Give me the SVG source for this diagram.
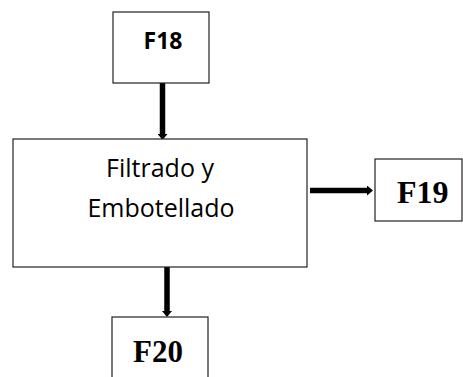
<svg xmlns="http://www.w3.org/2000/svg" width="463" height="377" viewBox="0 0 463 377">
  <style>
    .box { fill: #ffffff; stroke: #222222; stroke-width: 1.2; }
    .conn { stroke: #000000; stroke-width: 5.5; fill: none; }
    .sans { font-family: "Open Sans", "Liberation Sans", sans-serif; fill: #000000; }
    .serif { font-family: "Liberation Serif", "Times New Roman", serif; font-weight: bold; fill: #000000; }
  </style>
  <defs>
    <marker id="ah" markerUnits="userSpaceOnUse" markerWidth="6" markerHeight="10" refX="0" refY="5" orient="auto" viewBox="0 0 6 10">
      <path d="M0,0 L6,5 L0,10 z" fill="#000000"/>
    </marker>
  </defs>
  <rect width="463" height="377" fill="#ffffff"/>
  <g id="connectors">
    <line class="conn" x1="162.5" y1="83" x2="162.5" y2="134" marker-end="url(#ah)"/>
    <line class="conn" x1="310" y1="190.5" x2="367" y2="190.5" marker-end="url(#ah)"/>
    <line class="conn" x1="167" y1="267" x2="167" y2="311" marker-end="url(#ah)"/>
  </g>
  <g id="F18">
    <rect class="box" x="113" y="12" width="96" height="71"/>
    <text class="sans" x="163" y="49" font-size="23" font-weight="bold" text-anchor="middle">F18</text>
  </g>
  <g id="filtrado">
    <rect class="box" x="13" y="139" width="294" height="128"/>
    <text class="sans" x="160" y="177" font-size="25" text-anchor="middle">Filtrado y</text>
    <text class="sans" x="161" y="217" font-size="25" text-anchor="middle">Embotellado</text>
  </g>
  <g id="F19">
    <rect class="box" x="375" y="159" width="87" height="62"/>
    <text class="serif" x="397" y="203" font-size="32">F19</text>
  </g>
  <g id="F20">
    <rect class="box" x="112" y="317" width="96" height="70"/>
    <text class="serif" x="158" y="362" font-size="31" text-anchor="middle">F20</text>
  </g>
</svg>
